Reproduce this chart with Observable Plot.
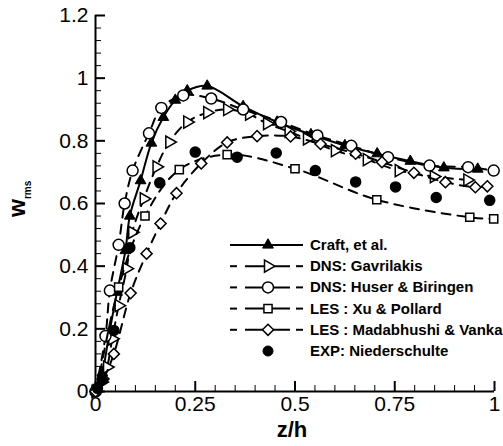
<!DOCTYPE html>
<html><head><meta charset="utf-8">
<script src="https://cdn.jsdelivr.net/npm/d3@7"></script>
<script src="https://cdn.jsdelivr.net/npm/@observablehq/plot@0.6"></script>
<style>body{margin:0;background:#fff} #chart{width:503px;height:446px}</style>
</head><body><div id="chart"></div>
<script>
// ---- data ----
const craftX = [0, 0.017, 0.035, 0.054, 0.075, 0.086, 0.113, 0.14, 0.17, 0.2, 0.23, 0.28, 0.37, 0.455, 0.54, 0.625, 0.706, 0.789, 0.873, 0.958];
const craftY = [0, 0.06, 0.19, 0.317, 0.45, 0.56, 0.673, 0.793, 0.875, 0.93, 0.96, 0.975, 0.91, 0.86, 0.82, 0.785, 0.759, 0.735, 0.714, 0.71];

const gavX = [0, 0.015, 0.029, 0.042, 0.058, 0.078, 0.092, 0.121, 0.153, 0.185, 0.23, 0.28, 0.33, 0.385, 0.43, 0.484, 0.53, 0.60, 0.68, 0.76, 0.848, 0.932];
const gavY = [0, 0.03, 0.078, 0.168, 0.274, 0.392, 0.508, 0.615, 0.717, 0.796, 0.86, 0.89, 0.9, 0.885, 0.855, 0.83, 0.806, 0.769, 0.74, 0.705, 0.686, 0.675];

const huserX = [0, 0.025, 0.036, 0.058, 0.073, 0.093, 0.134, 0.165, 0.22, 0.29, 0.37, 0.465, 0.556, 0.641, 0.733, 0.837, 0.934, 0.998];
const huserY = [0, 0.177, 0.322, 0.468, 0.6, 0.705, 0.824, 0.905, 0.945, 0.935, 0.9, 0.86, 0.817, 0.784, 0.748, 0.721, 0.716, 0.705];

const xuX = [0.004, 0.058, 0.124, 0.21, 0.33, 0.50, 0.705, 0.938, 0.998];
const xuY = [0.009, 0.333, 0.56, 0.708, 0.756, 0.711, 0.612, 0.556, 0.551];

const madX = [0, 0.02, 0.046, 0.088, 0.128, 0.163, 0.203, 0.265, 0.33, 0.405, 0.489, 0.564, 0.652, 0.718, 0.798, 0.877, 0.952, 0.982];
const madY = [0, 0.04, 0.12, 0.314, 0.44, 0.536, 0.633, 0.728, 0.795, 0.815, 0.814, 0.79, 0.759, 0.732, 0.698, 0.668, 0.652, 0.655];

const expX = [0.005, 0.017, 0.046, 0.086, 0.161, 0.25, 0.355, 0.453, 0.551, 0.652, 0.752, 0.854, 0.988];
const expY = [0.01, 0.037, 0.195, 0.459, 0.666, 0.764, 0.748, 0.761, 0.705, 0.669, 0.653, 0.619, 0.61];

const seriesNames = ["Craft, et al.", "DNS: Gavrilakis", "DNS: Huser & Biringen", "LES : Xu & Pollard", "LES : Madabhushi & Vanka", "EXP: Niederschulte"];

const xMajor = [0, 0.25, 0.5, 0.75, 1];
const xMinor = [0.05, 0.1, 0.15, 0.2, 0.3, 0.35, 0.4, 0.45, 0.55, 0.6, 0.65, 0.7, 0.8, 0.85, 0.9, 0.95];
const yMajor = [0, 0.2, 0.4, 0.6, 0.8, 1, 1.2];
const yMinor = [0.04, 0.08, 0.12, 0.16, 0.24, 0.28, 0.32, 0.36, 0.44, 0.48, 0.52, 0.56, 0.64, 0.68, 0.72, 0.76, 0.84, 0.88, 0.92, 0.96, 1.04, 1.08, 1.12, 1.16];
const xTickLabels = ["0", "0.25", "0.5", "0.75", "1"];
const yTickLabels = ["0", "0.2", "0.4", "0.6", "0.8", "1", "1.2"];

const rows = (xs, ys) => xs.map((x, i) => ({x, y: ys[i]}));
const craft = rows(craftX, craftY), gav = rows(gavX, gavY), huser = rows(huserX, huserY),
      xu = rows(xuX, xuY), mad = rows(madX, madY), exp = rows(expX, expY);

const DASH = "9,7";
const font = "'Liberation Sans', Arial, Helvetica, sans-serif";

const plot = Plot.plot({
  width: 503, height: 446,
  marginLeft: 95, marginRight: 9, marginTop: 15, marginBottom: 55,
  style: {fontFamily: font, background: "white", color: "black", overflow: "visible"},
  x: {domain: [0, 1]},
  y: {domain: [0, 1.2]},
  marks: [
    // minor & major inward ticks
    Plot.axisX({ticks: xMinor, tickSize: 6, dy: -6, tickFormat: () => "", label: null, strokeWidth: 1}),
    Plot.axisX({ticks: xMajor, tickSize: 10, dy: -10, tickFormat: () => "", label: null, strokeWidth: 2}),
    Plot.axisY({ticks: yMinor, tickSize: 6, dx: 6, tickFormat: () => "", label: null, strokeWidth: 1}),
    Plot.axisY({ticks: yMajor, tickSize: 10, dx: 10, tickFormat: () => "", label: null, strokeWidth: 2}),
    // tick labels
    Plot.axisX({ticks: xMajor, tickSize: 0, tickPadding: 5, tickFormat: (d, i) => xTickLabels[i], label: null, fontSize: 21}),
    Plot.axisY({ticks: yMajor, tickSize: 0, tickPadding: 7, tickFormat: (d, i) => yTickLabels[i], label: null, fontSize: 21}),
    // axis lines
    Plot.ruleX([0], {strokeWidth: 2}),
    Plot.ruleY([0], {strokeWidth: 2}),
    // Craft
    Plot.line(craft, {x: "x", y: "y", stroke: "black", strokeWidth: 2, curve: "catmull-rom"}),
    Plot.dot(craft, {x: "x", y: "y", symbol: "triangle", r: 4, fill: "black", stroke: "black", strokeWidth: 1}),
    // Gavrilakis
    Plot.line(gav, {x: "x", y: "y", stroke: "black", strokeWidth: 2, strokeDasharray: DASH, curve: "catmull-rom"}),
    Plot.dot(gav, {x: "x", y: "y", symbol: "triangle", rotate: 90, r: 4.5, fill: "white", stroke: "black", strokeWidth: 1.5}),
    // Huser
    Plot.line(huser, {x: "x", y: "y", stroke: "black", strokeWidth: 2, strokeDasharray: DASH, curve: "catmull-rom"}),
    Plot.dot(huser, {x: "x", y: "y", symbol: "circle", r: 5.5, fill: "white", stroke: "black", strokeWidth: 1.5}),
    // Xu
    Plot.line(xu, {x: "x", y: "y", stroke: "black", strokeWidth: 2, strokeDasharray: DASH, curve: "catmull-rom"}),
    Plot.dot(xu, {x: "x", y: "y", symbol: "square", r: 4.6, fill: "white", stroke: "black", strokeWidth: 1.5}),
    // Madabhushi
    Plot.line(mad, {x: "x", y: "y", stroke: "black", strokeWidth: 2, strokeDasharray: DASH, curve: "catmull-rom"}),
    Plot.dot(mad, {x: "x", y: "y", symbol: "diamond2", r: 5, fill: "white", stroke: "black", strokeWidth: 1.5}),
    // Experiment
    Plot.dot(exp, {x: "x", y: "y", symbol: "circle", r: 5, fill: "black", stroke: "black"})
  ]
});
document.getElementById("chart").appendChild(plot);

// ---- axis titles & legend ----
const svg = d3.select(plot);
svg.append("text")
  .attr("x", 292).attr("y", 437)
  .attr("text-anchor", "middle").attr("font-family", font)
  .attr("font-weight", "bold").attr("font-size", 22).attr("fill", "black")
  .text("z/h");
const yl = svg.append("text")
  .attr("transform", "translate(25,217) rotate(-90)")
  .attr("text-anchor", "start")
  .attr("font-family", font).attr("font-weight", "bold").attr("font-size", 23).attr("fill", "black");
yl.append("tspan").text("w");
yl.append("tspan").attr("font-size", 10).attr("dy", 6).text("rms");

const legendSym = [
  {sym: d3.symbolTriangle, r: 4, fill: "black", rot: 0, line: "solid"},
  {sym: d3.symbolTriangle, r: 4.5, fill: "white", rot: 90, line: "dash"},
  {sym: d3.symbolCircle, r: 5.5, fill: "white", rot: 0, line: "dash"},
  {sym: d3.symbolSquare, r: 4.6, fill: "white", rot: 0, line: "dash"},
  {sym: d3.symbolDiamond2, r: 5, fill: "white", rot: 0, line: "dash"},
  {sym: d3.symbolCircle, r: 5, fill: "black", rot: 0, line: "none"}
];
const lg = svg.append("g").attr("font-family", font).attr("text-anchor", "start");
seriesNames.forEach((name, i) => {
  const cy = 245 + i * 21.2, s = legendSym[i];
  const g = lg.append("g");
  if (s.line === "solid") {
    g.append("line").attr("x1", 230).attr("x2", 303).attr("y1", cy).attr("y2", cy)
      .attr("stroke", "black").attr("stroke-width", 2);
  } else if (s.line === "dash") {
    [[230, 237], [245, 290], [296, 303]].forEach(([a, b]) =>
      g.append("line").attr("x1", a).attr("x2", b).attr("y1", cy).attr("y2", cy)
        .attr("stroke", "black").attr("stroke-width", 2));
  }
  g.append("path")
    .attr("d", d3.symbol(s.sym, Math.PI * s.r * s.r)())
    .attr("transform", `translate(268,${cy}) rotate(${s.rot})`)
    .attr("fill", s.fill).attr("stroke", "black").attr("stroke-width", s.fill === "black" ? 1 : 1.5);
  g.append("text").attr("x", 310).attr("y", cy + 5).attr("text-anchor", "start")
    .attr("font-weight", "bold").attr("font-size", 15).attr("fill", "black").text(name);
});
</script>
</body></html>
